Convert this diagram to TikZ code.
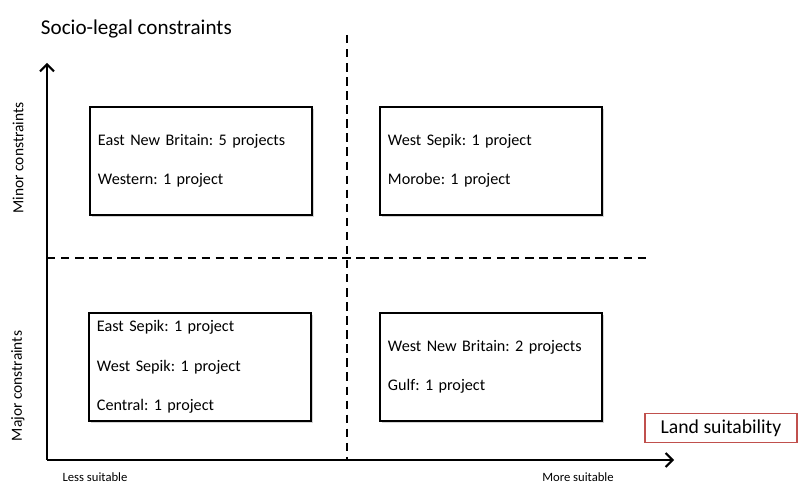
\documentclass[tikz,border=0pt]{standalone}
\usepackage{fontspec}
\setmainfont{Carlito}
\usetikzlibrary{shadows,arrows.meta,positioning}
\definecolor{landred}{RGB}{192,80,77}
\frenchspacing
\begin{document}
\begin{tikzpicture}[x=0.025cm,y=-0.025cm]

    % Styles
    \tikzstyle{quadrant} = [rectangle, minimum width=5.55cm, minimum height=2.7cm, text width=5.15cm, align=left, draw=black, thick, fill=white, font=\fontsize{11.5}{14}\selectfont, drop shadow={shadow xshift=1.2pt, shadow yshift=-1.2pt, opacity=0.35}]
    \tikzstyle{axis} = [line width=1.4pt, -{Straight Barb[length=5pt,width=10pt]}]
    \tikzstyle{divider} = [line width=1.3pt, dash pattern=on 6pt off 4pt]
    \tikzstyle{axislabel} = [font=\fontsize{9}{11}\selectfont]
    \tikzstyle{sidelabel} = [font=\fontsize{11}{13}\selectfont, rotate=90]

    \useasboundingbox (0,0) rectangle (798,484);

    % Coordonnees
    \coordinate (origin) at (47,460);
    \coordinate (ytip) at (47,63);
    \coordinate (xtip) at (674,460);
    \coordinate (vtop) at (347,35);
    \coordinate (vbot) at (347,460);
    \coordinate (hleft) at (47,258);
    \coordinate (hright) at (648,258);

    % Noeuds
    \node (title) [anchor=west, font=\fontsize{15}{18}\selectfont] at (36,29) {Socio-legal constraints};
    \node (topleft) [quadrant] at (201,161) {East New Britain: 5 projects\\ \mbox{}\\ Western: 1 project};
    \node (topright) [quadrant] at (491,161) {West Sepik: 1 project\\ \mbox{}\\ Morobe: 1 project};
    \node (botleft) [quadrant] at (200,367) {East Sepik: 1 project\\ \mbox{}\\ West Sepik: 1 project\\ \mbox{}\\ Central: 1 project};
    \node (botright) [quadrant] at (491,367) {West New Britain: 2 projects\\ \mbox{}\\ Gulf: 1 project};
    \node (minor) [sidelabel] at (18,158) {Minor constraints};
    \node (major) [sidelabel] at (18,386) {Major constraints};
    \node (less) [axislabel] at (95,477) {Less suitable};
    \node (more) [axislabel] at (578,477) {More suitable};
    \node (land) [draw=landred, line width=0.8pt, minimum width=3.8cm, minimum height=0.72cm, font=\fontsize{14}{16}\selectfont] at (721,428) {Land suitability};

    % Lignes
    \draw [divider] (vtop) -- (vbot);
    \draw [divider] (hleft) -- (hright);
    \draw [axis] (origin) -- (ytip);
    \draw [axis] (origin) -- (xtip);

\end{tikzpicture}
\end{document}
